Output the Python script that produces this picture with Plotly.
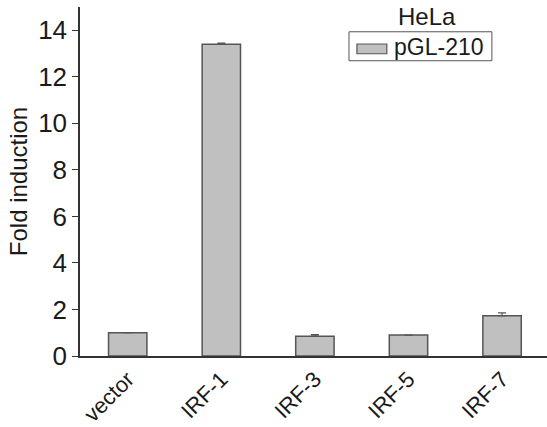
import plotly.graph_objects as go

categories = ["vector", "IRF-1", "IRF-3", "IRF-5", "IRF-7"]
fold_induction = [1.0, 13.4, 0.85, 0.9, 1.73]
error_upper = [None, 0.05, 0.07, None, 0.12]
series_name = "pGL-210"
legend_title = "HeLa"
y_ticks = [0, 2, 4, 6, 8, 10, 12, 14]

FONT = "Liberation Sans, Arial, sans-serif"
BAR_FILL = "#c0c0c0"
BAR_LINE = "#555555"
AXIS = "#333333"
TXT = "#1a1a1a"

fig = go.Figure()
fig.add_trace(go.Bar(
    x=categories, y=fold_induction, name=series_name,
    width=0.41,
    marker=dict(color=BAR_FILL, line=dict(color=BAR_LINE, width=1.5)),
    error_y=dict(type="data", symmetric=False, array=error_upper,
                 arrayminus=[0] * len(error_upper),
                 color=BAR_LINE, thickness=1.2, width=4),
    showlegend=False,
))

# manual legend box (wide bar symbol like the reference)
fig.add_shape(type="rect", xref="paper", yref="paper",
              x0=0.576, x1=0.882, y0=0.846, y1=0.929,
              line=dict(color="#555555", width=1), fillcolor="white")
fig.add_shape(type="rect", xref="paper", yref="paper",
              x0=0.593, x1=0.657, y0=0.866, y1=0.894,
              line=dict(color=BAR_LINE, width=1.2), fillcolor=BAR_FILL)
fig.add_annotation(xref="paper", yref="paper", x=0.668, y=0.884,
                   text=series_name, showarrow=False, xanchor="left",
                   yanchor="middle", font=dict(family=FONT, size=23, color=TXT))
fig.add_annotation(xref="paper", yref="paper", x=0.743, y=0.972,
                   text=legend_title, showarrow=False, xanchor="center",
                   yanchor="middle", font=dict(family=FONT, size=24, color=TXT))

fig.update_layout(
    width=547, height=427,
    margin=dict(l=80, r=0, t=7, b=71),
    paper_bgcolor="white", plot_bgcolor="white",
    font=dict(family=FONT, size=24, color=TXT),
    bargap=0.6,
)
fig.update_xaxes(
    range=[-0.51, 4.48], showline=True, linecolor=AXIS, linewidth=1.5,
    ticks="", tickangle=-45, showgrid=False, zeroline=False, automargin=False,
    tickfont=dict(family=FONT, size=22, color=TXT),
)
fig.update_yaxes(
    range=[0, 15], tickvals=y_ticks, showline=True, linecolor=AXIS,
    linewidth=1.5, ticks="outside", ticklen=6, tickcolor=AXIS, tickwidth=1.2,
    showgrid=False, zeroline=False, automargin=False,
    title=dict(text="Fold induction", font=dict(family=FONT, size=24, color=TXT), standoff=4),
    tickfont=dict(family=FONT, size=26, color=TXT),
)

fig.write_html("out.html")
